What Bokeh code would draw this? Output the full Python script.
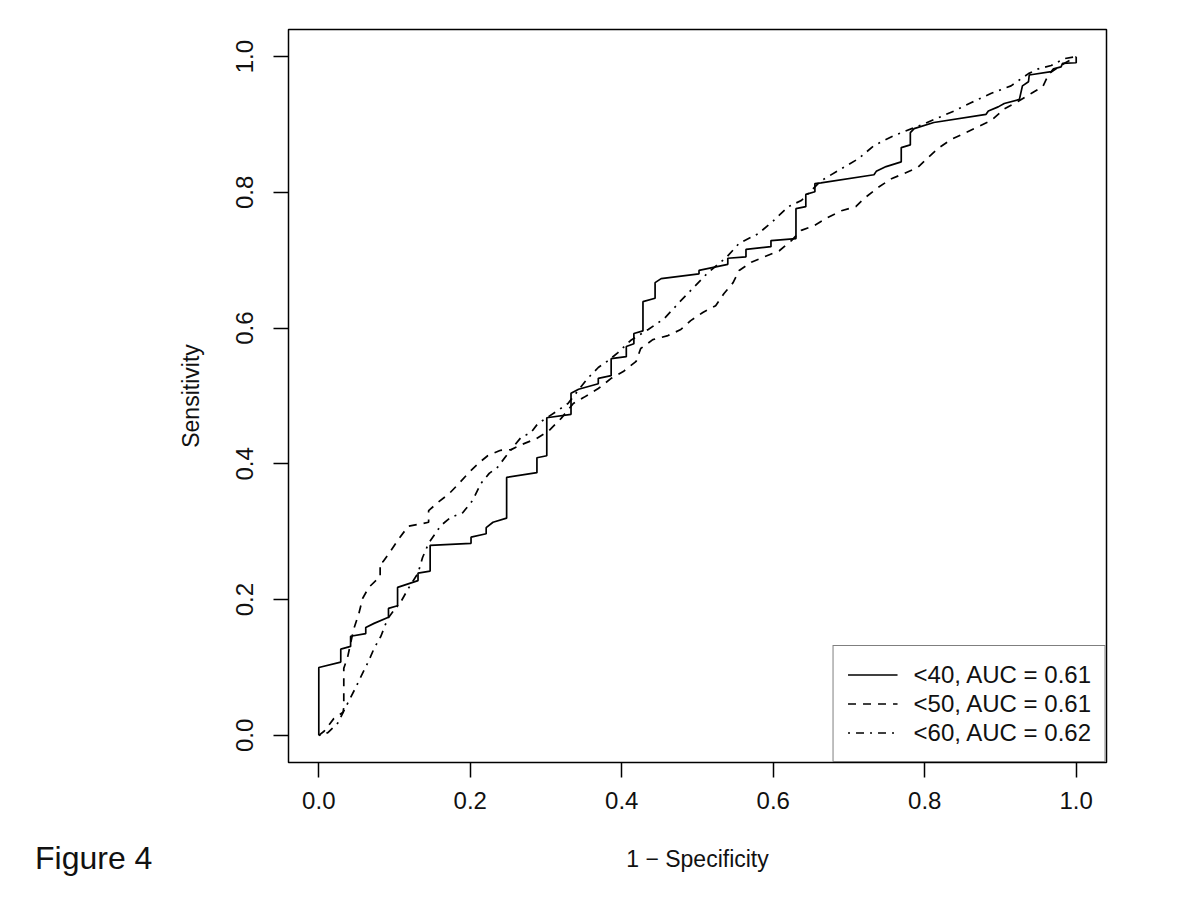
from bokeh.plotting import figure
from bokeh.layouts import row
from bokeh.models import (Range1d, FixedTicker, PrintfTickFormatter, Legend, LegendItem, Div)
from bokeh.embed import file_html
from bokeh.resources import INLINE

# ---- data ----
fpr_40 = [0, 0, 0.029, 0.029, 0.042, 0.042, 0.062, 0.062, 0.073, 0.092, 0.092, 0.104, 0.104,
          0.131, 0.131, 0.147, 0.147, 0.201, 0.201, 0.221, 0.221, 0.230, 0.248, 0.248, 0.288,
          0.288, 0.301, 0.301, 0.333, 0.333, 0.343, 0.369, 0.369, 0.386, 0.386, 0.406, 0.406,
          0.416, 0.416, 0.428, 0.428, 0.444, 0.444, 0.452, 0.502, 0.502, 0.540, 0.540, 0.564,
          0.564, 0.597, 0.597, 0.630, 0.630, 0.643, 0.643, 0.655, 0.655, 0.663, 0.733, 0.736,
          0.749, 0.769, 0.769, 0.781, 0.781, 0.786, 0.812, 0.881, 0.884, 0.897, 0.905, 0.925,
          0.929, 0.937, 0.938, 0.967, 0.970, 0.980, 0.982, 1.0, 1.0]
tpr_40 = [0, 0.100, 0.108, 0.127, 0.131, 0.146, 0.150, 0.159, 0.165, 0.174, 0.187, 0.191, 0.218,
          0.228, 0.239, 0.242, 0.280, 0.283, 0.292, 0.297, 0.306, 0.314, 0.320, 0.380, 0.387,
          0.409, 0.412, 0.468, 0.473, 0.504, 0.510, 0.518, 0.526, 0.530, 0.555, 0.558, 0.573,
          0.577, 0.592, 0.596, 0.639, 0.644, 0.667, 0.673, 0.680, 0.685, 0.694, 0.703, 0.705,
          0.716, 0.720, 0.729, 0.732, 0.776, 0.779, 0.797, 0.801, 0.813, 0.814, 0.826, 0.831,
          0.838, 0.845, 0.866, 0.870, 0.888, 0.894, 0.903, 0.915, 0.920, 0.926, 0.931, 0.937,
          0.957, 0.963, 0.973, 0.978, 0.982, 0.985, 0.990, 0.991, 1.0]

fpr_50 = [0, 0.007, 0.020, 0.032, 0.033, 0.033, 0.038, 0.046, 0.053, 0.058, 0.066, 0.081, 0.081,
          0.085, 0.095, 0.106, 0.118, 0.137, 0.145, 0.145, 0.157, 0.172, 0.185, 0.198, 0.211,
          0.223, 0.240, 0.254, 0.269, 0.287, 0.304, 0.320, 0.336, 0.350, 0.369, 0.386, 0.402,
          0.419, 0.425, 0.441, 0.461, 0.478, 0.491, 0.507, 0.524, 0.535, 0.547, 0.555, 0.571,
          0.588, 0.608, 0.624, 0.637, 0.654, 0.672, 0.690, 0.709, 0.720, 0.738, 0.756, 0.773,
          0.791, 0.804, 0.819, 0.835, 0.852, 0.871, 0.888, 0.905, 0.923, 0.941, 0.956, 0.964,
          0.984, 1.0]
tpr_50 = [0, 0.006, 0.025, 0.034, 0.041, 0.099, 0.115, 0.156, 0.180, 0.202, 0.218, 0.234, 0.255,
          0.256, 0.272, 0.290, 0.308, 0.312, 0.314, 0.331, 0.343, 0.356, 0.371, 0.387, 0.401,
          0.412, 0.420, 0.421, 0.429, 0.437, 0.449, 0.467, 0.489, 0.498, 0.511, 0.526, 0.536,
          0.551, 0.570, 0.583, 0.589, 0.598, 0.611, 0.623, 0.633, 0.651, 0.667, 0.685, 0.697,
          0.705, 0.714, 0.729, 0.744, 0.751, 0.763, 0.773, 0.779, 0.791, 0.807, 0.820, 0.828,
          0.837, 0.851, 0.866, 0.878, 0.887, 0.897, 0.906, 0.923, 0.934, 0.946, 0.956, 0.975,
          0.990, 1.0]

fpr_60 = [0, 0.012, 0.025, 0.038, 0.049, 0.055, 0.066, 0.073, 0.082, 0.091, 0.099, 0.108, 0.118,
          0.131, 0.137, 0.145, 0.161, 0.174, 0.190, 0.203, 0.214, 0.225, 0.236, 0.251, 0.267,
          0.280, 0.289, 0.316, 0.329, 0.355, 0.369, 0.382, 0.395, 0.412, 0.435, 0.456, 0.476,
          0.495, 0.514, 0.538, 0.555, 0.580, 0.600, 0.620, 0.637, 0.663, 0.690, 0.713, 0.733,
          0.760, 0.799, 0.839, 0.861, 0.888, 0.914, 0.937, 0.950, 0.967, 0.984, 1.0]
tpr_60 = [0, 0.004, 0.018, 0.047, 0.071, 0.085, 0.110, 0.128, 0.146, 0.172, 0.184, 0.196, 0.216,
          0.239, 0.262, 0.283, 0.309, 0.321, 0.328, 0.346, 0.371, 0.386, 0.395, 0.417, 0.439,
          0.446, 0.459, 0.479, 0.489, 0.526, 0.542, 0.552, 0.564, 0.582, 0.598, 0.614, 0.638,
          0.660, 0.682, 0.704, 0.725, 0.739, 0.758, 0.779, 0.788, 0.817, 0.835, 0.850, 0.869,
          0.884, 0.901, 0.920, 0.932, 0.946, 0.957, 0.975, 0.982, 0.987, 0.997, 1.0]

legend_labels = ["<40, AUC = 0.61", "<50, AUC = 0.61", "<60, AUC = 0.62"]
x_ticks = [0.0, 0.2, 0.4, 0.6, 0.8, 1.0]
y_ticks = [0.0, 0.2, 0.4, 0.6, 0.8, 1.0]
caption = "Figure 4"

FONT = "Liberation Sans"
TXT = "#111111"
CAP_W = 160
TOTAL_H = 892

# ---- caption strip on the left ----
cap = Div(text=caption, width=CAP_W, height=TOTAL_H, margin=(0, 0, 0, 0),
          styles={"font-family": "'Liberation Sans', Arial, sans-serif", "font-size": "32px",
                  "line-height": "36px", "color": TXT, "white-space": "nowrap",
                  "padding-top": "840px", "padding-left": "35px", "box-sizing": "border-box"})

# ---- main ROC plot ----
p = figure(frame_width=818, frame_height=733,
           x_range=Range1d(-0.04, 1.04), y_range=Range1d(-0.04, 1.04),
           output_backend="svg", toolbar_location=None,
           min_border_left=288 - CAP_W, min_border_top=29, min_border_right=86, min_border_bottom=130)
p.background_fill_color = "white"
p.border_fill_color = "white"
p.grid.visible = False
p.outline_line_color = "black"
p.outline_line_width = 1.5

for ax in (p.xaxis[0], p.yaxis[0]):
    ax.axis_line_color = None
    ax.major_tick_in = 0
    ax.major_tick_out = 15
    ax.major_tick_line_width = 1.5
    ax.major_tick_line_color = "black"
    ax.minor_tick_line_color = None
    ax.major_label_text_font = FONT
    ax.major_label_text_font_size = "24px"
    ax.major_label_text_color = TXT
    ax.axis_label_text_font = FONT
    ax.axis_label_text_font_size = "23px"
    ax.axis_label_text_font_style = "normal"
    ax.axis_label_text_color = TXT
    ax.formatter = PrintfTickFormatter(format="%.1f")

p.xaxis[0].ticker = FixedTicker(ticks=x_ticks)
p.yaxis[0].ticker = FixedTicker(ticks=y_ticks)
p.xaxis[0].axis_label = "1 \u2212 Specificity"
p.yaxis[0].axis_label = "Sensitivity"
p.xaxis[0].major_label_standoff = 14
p.xaxis[0].axis_label_standoff = 34
p.yaxis[0].major_label_orientation = "vertical"
p.yaxis[0].major_label_standoff = 20
p.yaxis[0].axis_label_standoff = 30

r40 = p.line(fpr_40, tpr_40, line_color="black", line_width=1.7)
r50 = p.line(fpr_50, tpr_50, line_color="black", line_width=1.7, line_dash="8 7")
r60 = p.line(fpr_60, tpr_60, line_color="black", line_width=1.7, line_dash="2 6 8 6")

legend = Legend(items=[LegendItem(label=legend_labels[0], renderers=[r40]),
                       LegendItem(label=legend_labels[1], renderers=[r50]),
                       LegendItem(label=legend_labels[2], renderers=[r60])],
                location="bottom_right", margin=0, padding=14, spacing=0,
                glyph_width=50, glyph_height=29, label_height=29, label_standoff=16,
                label_text_font=FONT, label_text_font_size="24px", label_text_color=TXT,
                border_line_color="black", border_line_width=1.5,
                background_fill_color="white", background_fill_alpha=1.0)
p.add_layout(legend, "center")

layout = row(cap, p, spacing=0)
open("out.html", "w").write(file_html(layout, INLINE))
